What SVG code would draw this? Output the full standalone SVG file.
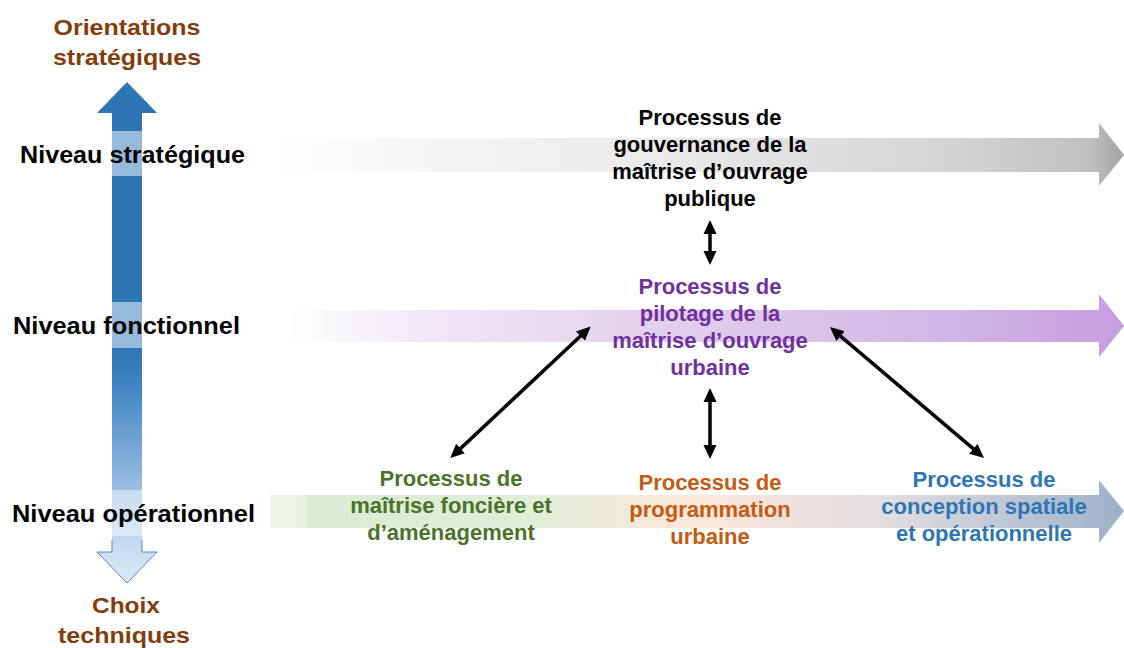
<svg xmlns="http://www.w3.org/2000/svg" width="1124" height="648" viewBox="0 0 1124 648">
<style>
.lvl{font-family:"Liberation Sans",Arial,sans-serif;font-weight:bold;font-size:23px;fill:#000}
.brn{font-family:"Liberation Sans",Arial,sans-serif;font-weight:bold;font-size:22px;fill:#843c0c;text-anchor:middle}
.proc{font-family:"Liberation Sans",Arial,sans-serif;font-weight:bold;font-size:22px;text-anchor:middle}
.conn{stroke:#000;stroke-width:3.5;fill:none;marker-start:url(#ah);marker-end:url(#ah)}
</style>
<defs>
<marker id="ah" markerUnits="userSpaceOnUse" viewBox="0 0 14 14" markerWidth="14" markerHeight="14" refX="9" refY="7" orient="auto-start-reverse">
<path d="M0,0.5 L14,7 L0,13.5 z" fill="#000"/>
</marker>
<linearGradient id="gGray" gradientUnits="userSpaceOnUse" x1="270" y1="0" x2="1124" y2="0">
<stop offset="0" stop-color="#ffffff"/>
<stop offset="0.15" stop-color="#f7f7f7"/>
<stop offset="0.45" stop-color="#eaeaea"/>
<stop offset="0.8" stop-color="#d4d4d4"/>
<stop offset="0.96" stop-color="#c0c0c0"/>
<stop offset="1" stop-color="#a3a3a3"/>
</linearGradient>
<linearGradient id="gPurp" gradientUnits="userSpaceOnUse" x1="285" y1="0" x2="1124" y2="0">
<stop offset="0" stop-color="#ffffff"/>
<stop offset="0.2" stop-color="#efe4f5"/>
<stop offset="0.45" stop-color="#e2cfec"/>
<stop offset="0.75" stop-color="#d4b9e6"/>
<stop offset="1" stop-color="#c69ddf"/>
</linearGradient>
<linearGradient id="gOp" gradientUnits="userSpaceOnUse" x1="270" y1="0" x2="1124" y2="0">
<stop offset="0" stop-color="#edf3e9"/>
<stop offset="0.04" stop-color="#eaf2e5"/>
<stop offset="0.045" stop-color="#dcebd3"/>
<stop offset="0.3" stop-color="#e0eed9"/>
<stop offset="0.5" stop-color="#fbe6da"/>
<stop offset="0.72" stop-color="#e2dde0"/>
<stop offset="0.95" stop-color="#a9bacd"/>
<stop offset="1" stop-color="#9cb1c6"/>
</linearGradient>
<linearGradient id="gAxis" gradientUnits="userSpaceOnUse" x1="0" y1="82" x2="0" y2="583">
<stop offset="0" stop-color="#2e75b6"/>
<stop offset="0.53" stop-color="#2e75b6"/>
<stop offset="0.6" stop-color="#3e83c2"/>
<stop offset="0.82" stop-color="#9dc0e4"/>
<stop offset="0.93" stop-color="#c8dcf2"/>
<stop offset="1" stop-color="#deebf8"/>
</linearGradient>
</defs>

<g id="bands">
<path id="band-strategique" d="M270,138 H1099 V123 L1124,155 L1099,186 V172 H270 z" fill="url(#gGray)"/>
<path id="band-fonctionnel" d="M285,310 H1099 V294 L1124,326 L1099,357 V342 H285 z" fill="url(#gPurp)"/>
<path id="band-operationnel" d="M270,495 H1099 V480 L1124,511 L1099,543 V528 H270 z" fill="url(#gOp)"/>
</g>

<g id="axis">
<path d="M127,82 L157,113 H142 V552 H157 L127,583 L97,552 H112 V113 H97 z" fill="url(#gAxis)"/>
<path d="M142,540 V552 H157 L127,583 L97,552 H112 V540" fill="none" stroke="#4f88c6" stroke-width="1"/>
<rect x="112" y="131" width="30" height="45" fill="#ffffff" fill-opacity="0.5"/>
<rect x="112" y="302" width="30" height="46" fill="#ffffff" fill-opacity="0.5"/>
<rect x="112" y="490" width="30" height="46" fill="#ffffff" fill-opacity="0.45"/>
</g>

<g id="axis-labels">
<text class="brn" x="127" y="35" textLength="147" lengthAdjust="spacingAndGlyphs">Orientations</text>
<text class="brn" x="127" y="65" textLength="148" lengthAdjust="spacingAndGlyphs">stratégiques</text>
<text class="brn" x="126" y="613" textLength="68" lengthAdjust="spacingAndGlyphs">Choix</text>
<text class="brn" x="124" y="643" textLength="132" lengthAdjust="spacingAndGlyphs">techniques</text>
</g>

<g id="level-labels">
<text id="lvl-strategique" class="lvl" x="20" y="163" textLength="225" lengthAdjust="spacingAndGlyphs">Niveau stratégique</text>
<text id="lvl-fonctionnel" class="lvl" x="13" y="334" textLength="227" lengthAdjust="spacingAndGlyphs">Niveau fonctionnel</text>
<text id="lvl-operationnel" class="lvl" x="12" y="522" textLength="243" lengthAdjust="spacingAndGlyphs">Niveau opérationnel</text>
</g>

<g id="node-gouvernance">
<text class="proc" fill="#000" x="710" y="125">Processus de</text>
<text class="proc" fill="#000" x="710" y="152">gouvernance de la</text>
<text class="proc" fill="#000" x="710" y="179">maîtrise d’ouvrage</text>
<text class="proc" fill="#000" x="710" y="206">publique</text>
</g>

<g id="node-pilotage">
<text class="proc" fill="#7030a0" x="710" y="294">Processus de</text>
<text class="proc" fill="#7030a0" x="710" y="321">pilotage de la</text>
<text class="proc" fill="#7030a0" x="710" y="348">maîtrise d’ouvrage</text>
<text class="proc" fill="#7030a0" x="710" y="375">urbaine</text>
</g>

<g id="node-fonciere">
<text class="proc" fill="#4a7329" x="451" y="486">Processus de</text>
<text class="proc" fill="#4a7329" x="451" y="513">maîtrise foncière et</text>
<text class="proc" fill="#4a7329" x="451" y="540">d’aménagement</text>
</g>

<g id="node-programmation">
<text class="proc" fill="#c55a11" x="710" y="490">Processus de</text>
<text class="proc" fill="#c55a11" x="710" y="517">programmation</text>
<text class="proc" fill="#c55a11" x="710" y="544">urbaine</text>
</g>

<g id="node-conception">
<text class="proc" fill="#2e75b6" x="984" y="487">Processus de</text>
<text class="proc" fill="#2e75b6" x="984" y="514">conception spatiale</text>
<text class="proc" fill="#2e75b6" x="984" y="541">et opérationnelle</text>
</g>

<g id="connectors">
<line class="conn" x1="710" y1="225" x2="710" y2="260"/>
<line class="conn" x1="710" y1="393" x2="710" y2="454"/>
<line class="conn" x1="587" y1="330" x2="454" y2="454.6"/>
<line class="conn" x1="833.7" y1="330.3" x2="980.2" y2="454.7"/>
</g>
</svg>
